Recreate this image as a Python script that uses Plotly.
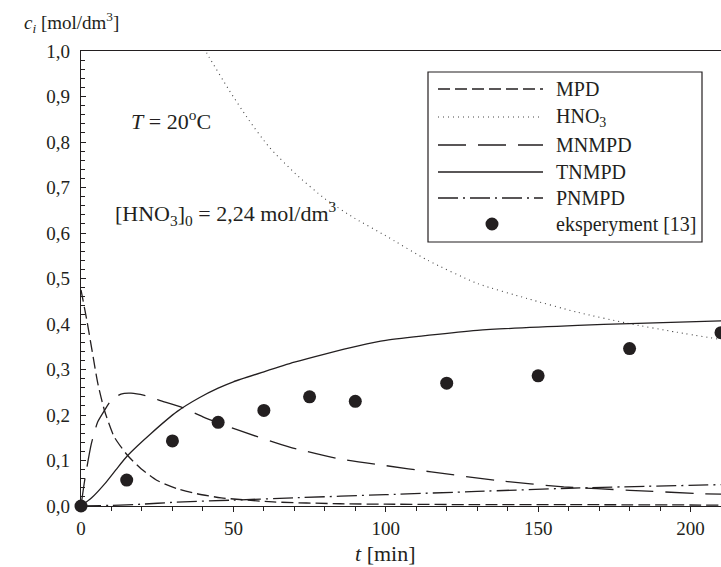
import plotly.graph_objects as go

# ---------------- data ----------------
t_mpd = [0, 2, 4, 5.5, 7.7, 10.9, 15.3, 19.7, 25, 31.6, 38, 46, 63, 85, 100, 130, 160, 210]
c_mpd = [0.475, 0.405, 0.327, 0.27, 0.21, 0.152, 0.111, 0.082, 0.056, 0.038, 0.027, 0.018, 0.009, 0.005, 0.004, 0.003, 0.003, 0.002]

t_hno3 = [38, 42, 48.6, 55.1, 61.6, 70.4, 80.1, 89.9, 99.7, 113.8, 130.1, 146.4, 162.8, 179, 195.4, 210]
c_hno3 = [1.035, 0.987, 0.914, 0.848, 0.790, 0.73, 0.675, 0.632, 0.595, 0.540, 0.489, 0.456, 0.426, 0.402, 0.382, 0.366]

t_mnmpd = [0, 1.2, 3.4, 5.5, 7.7, 9.9, 13.1, 16.4, 20.8, 27.3, 32.7, 40, 51.9, 68.2, 84.5, 99.7, 114.9, 136.7, 158.4, 180.1, 204, 210]
c_mnmpd = [0, 0.056, 0.137, 0.185, 0.21, 0.232, 0.246, 0.248, 0.243, 0.229, 0.218, 0.196, 0.166, 0.130, 0.104, 0.089, 0.075, 0.056, 0.042, 0.0345, 0.027, 0.026]

t_tnmpd = [0, 3.5, 7.7, 11.5, 15.3, 22.9, 31.6, 38.8, 45, 50, 60, 70, 80, 91, 100, 130, 163, 180, 210]
c_tnmpd = [0, 0.018, 0.048, 0.080, 0.111, 0.159, 0.208, 0.238, 0.259, 0.273, 0.295, 0.316, 0.334, 0.352, 0.364, 0.386, 0.397, 0.401, 0.407]

t_pnmpd = [0, 10, 20, 30, 50, 70, 100, 130, 160, 210]
c_pnmpd = [0, 0.0015, 0.004, 0.008, 0.013, 0.018, 0.025, 0.032, 0.039, 0.047]

t_exp = [0, 15, 30, 45, 60, 75, 90, 120, 150, 180, 210]
c_exp = [0.0, 0.057, 0.143, 0.184, 0.21, 0.24, 0.23, 0.27, 0.286, 0.346, 0.381]

legend_names = ["MPD", "HNO<sub>3</sub>", "MNMPD", "TNMPD", "PNMPD", "eksperyment [13]"]
y_tickvals = [0, 0.1, 0.2, 0.3, 0.4, 0.5, 0.6, 0.7, 0.8, 0.9, 1.0]
x_tickvals = [0, 50, 100, 150, 200]

# ---------------- style ----------------
INK = "#231f20"
FONT = "Liberation Serif"
FS = 19
W, H = 721, 567
ML, MR, MT, MB = 81, 0, 51, 61
PW, PH = W - ML - MR, H - MT - MB

dash_mpd = "12px,5px"
dash_hno3 = "1px,4px"
dash_mnmpd = "28px,12px"
dash_pnmpd = "20px,5px,2px,5px"

def px_x(px):
    return (px - ML) / PW

def px_y(py):
    return (H - MB - py) / PH

fig = go.Figure()
lw = 1.3
fig.add_trace(go.Scatter(x=t_mpd, y=c_mpd, mode="lines", line=dict(color=INK, width=lw, dash=dash_mpd, shape="spline", smoothing=0.6), showlegend=False))
fig.add_trace(go.Scatter(x=t_hno3, y=c_hno3, mode="lines", line=dict(color="#444", width=1.1, dash=dash_hno3, shape="spline", smoothing=0.6), showlegend=False))
fig.add_trace(go.Scatter(x=t_mnmpd, y=c_mnmpd, mode="lines", line=dict(color=INK, width=lw, dash=dash_mnmpd, shape="spline", smoothing=0.6), showlegend=False))
fig.add_trace(go.Scatter(x=t_tnmpd, y=c_tnmpd, mode="lines", line=dict(color=INK, width=lw, shape="spline", smoothing=0.6), showlegend=False))
fig.add_trace(go.Scatter(x=t_pnmpd, y=c_pnmpd, mode="lines", line=dict(color=INK, width=lw, dash=dash_pnmpd, shape="spline", smoothing=0.6), showlegend=False))
fig.add_trace(go.Scatter(x=t_exp, y=c_exp, mode="markers", marker=dict(color=INK, size=13), cliponaxis=False, showlegend=False))

# ---------------- manual legend ----------------
shapes = []
annotations = []
bx0, by0, bx1, by1 = 428, 72, 702, 242
shapes.append(dict(type="rect", xref="paper", yref="paper", x0=px_x(bx0), x1=px_x(bx1), y0=px_y(by1), y1=px_y(by0),
                   line=dict(color=INK, width=1.2), fillcolor="white", layer="below"))
rows = [89, 117, 145, 172, 198, 224]
styles = [(dash_mpd, INK, lw), (dash_hno3, "#444", 1.1), (dash_mnmpd, INK, lw), ("solid", INK, lw), (dash_pnmpd, INK, lw)]
for i, name in enumerate(legend_names):
    yy = px_y(rows[i])
    if i < 5:
        d, col, w = styles[i]
        shapes.append(dict(type="line", xref="paper", yref="paper", x0=px_x(438), x1=px_x(543), y0=yy, y1=yy,
                           line=dict(color=col, width=w, dash=d)))
    else:
        shapes.append(dict(type="circle", xref="paper", yref="paper", xsizemode="pixel", ysizemode="pixel",
                           xanchor=px_x(492), yanchor=yy, x0=-6.5, x1=6.5, y0=-6.5, y1=6.5,
                           fillcolor=INK, line=dict(color=INK, width=0)))
    annotations.append(dict(text=name, xref="paper", yref="paper", x=px_x(554), y=yy, xanchor="left", yanchor="middle",
                            showarrow=False, font=dict(family=FONT, size=20, color=INK)))

# ---------------- text annotations ----------------
annotations.append(dict(text="<i>c<sub>i</sub></i> [mol/dm<sup>3</sup>]", xref="paper", yref="paper", x=px_x(22), y=px_y(22),
                        xanchor="left", yanchor="middle", showarrow=False, font=dict(family=FONT, size=FS, color=INK)))
annotations.append(dict(text="<i>t</i> [min]", xref="paper", yref="paper", x=px_x(385), y=px_y(553),
                        xanchor="center", yanchor="middle", showarrow=False, font=dict(family=FONT, size=22, color=INK)))
annotations.append(dict(text="<i>T</i> = 20<sup>o</sup>C", xref="paper", yref="paper", x=px_x(129), y=px_y(120),
                        xanchor="left", yanchor="middle", showarrow=False, font=dict(family=FONT, size=22, color=INK)))
annotations.append(dict(text="[HNO<sub>3</sub>]<sub>0</sub> = 2,24 mol/dm<sup>3</sup>", xref="paper", yref="paper", x=px_x(113), y=px_y(214),
                        xanchor="left", yanchor="middle", showarrow=False, font=dict(family=FONT, size=22, color=INK)))

fig.update_layout(
    width=W, height=H, margin=dict(l=ML, r=MR, t=MT, b=MB),
    paper_bgcolor="white", plot_bgcolor="white",
    separators=", ",
    font=dict(family=FONT, size=FS, color=INK),
    shapes=shapes, annotations=annotations,
    showlegend=False,
)
fig.update_xaxes(range=[0, 210], tickvals=x_tickvals, showgrid=False, zeroline=False,
                 showline=True, linecolor=INK, linewidth=1.3, mirror=True,
                 ticks="outside", ticklen=5, tickwidth=1, tickcolor=INK,
                 minor=dict(dtick=10, ticks="outside", ticklen=4, tickwidth=1, tickcolor=INK),
                 tickfont=dict(family=FONT, size=FS, color=INK))
fig.update_yaxes(range=[0, 1.0], tickvals=y_tickvals, tickformat=".1f", showgrid=False, zeroline=False,
                 showline=True, linecolor=INK, linewidth=1.3,
                 ticks="inside", ticklen=5, tickwidth=1, tickcolor=INK,
                 minor=dict(dtick=0.02, ticks="inside", ticklen=4, tickwidth=1, tickcolor=INK),
                 ticklabelstandoff=6,
                 tickfont=dict(family=FONT, size=FS, color=INK))

fig.write_html("out.html")
